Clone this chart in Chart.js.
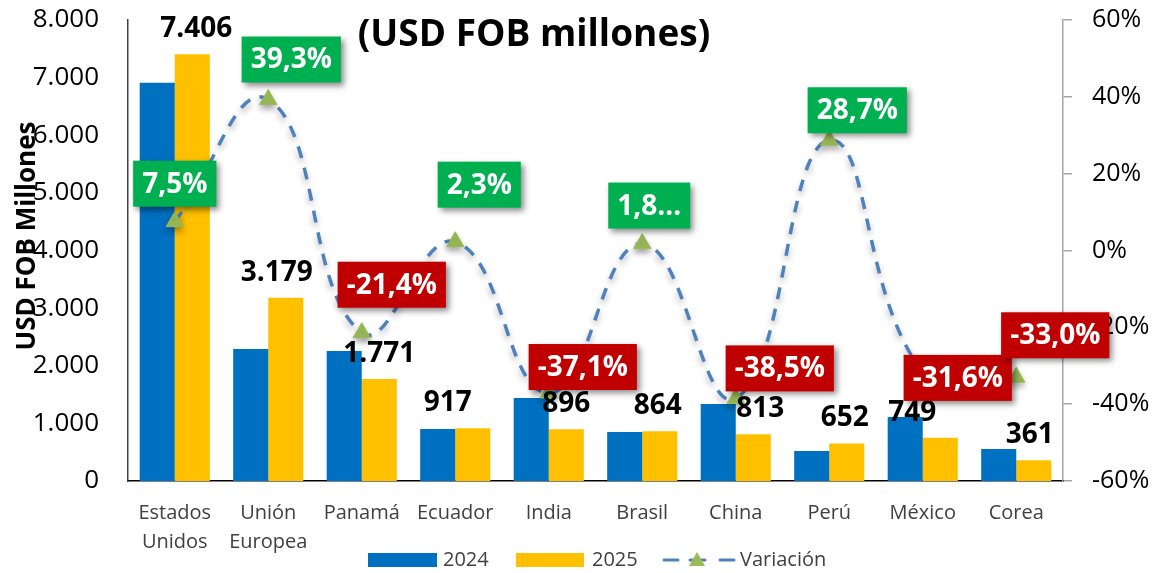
<!DOCTYPE html>
<html>
<head>
<meta charset="utf-8">
<script src="https://cdn.jsdelivr.net/npm/chart.js@4/dist/chart.umd.min.js"></script>
<style>
  html, body { margin: 0; padding: 0; background: #fff; }
  #wrap { width: 1152px; height: 573px; position: relative; }
</style>
</head>
<body>
<div id="wrap"><canvas id="myChart"></canvas></div>
<script>
const categories = [['Estados', 'Unidos'], ['Unión', 'Europea'], 'Panamá', 'Ecuador', 'India', 'Brasil', 'China', 'Perú', 'México', 'Corea'];
const values2024 = [6910, 2290, 2255, 903, 1440, 851, 1337, 521, 1111, 556];
const values2025 = [7406, 3179, 1771, 917, 896, 864, 813, 652, 749, 361];
const variation = [7.5, 39.3, -21.4, 2.3, -37.1, 1.8, -38.5, 28.7, -31.6, -33.0];
const variationText = ['7,5%', '39,3%', '-21,4%', '2,3%', '-37,1%', '1,8…', '-38,5%', '28,7%', '-31,6%', '-33,0%'];
const leftTicks = [0, 8000, 1000];
const rightTicks = [-60, 60, 20];

const FONT = '"Open Sans", "Noto Sans", sans-serif';
const fmt = v => v.toLocaleString('de-DE');

// label nudges as placed in the original (relative to the mark)
const valueNudge = [4, -9, 0, -25, 0, -2, 7, -2, -28, -4];
const boxNudge = [[0, -15], [23, -17], [30, -25], [24, -34], [34, -3], [7, -15], [44, -7], [28, -7], [35, 29], [39, -19]];

// tick padding is added to the scale's top padding, so keep it small there
const trimPad = s => { s.paddingTop = 16; s.paddingBottom = 16; };

const extras = {
  id: 'extras',
  beforeDatasetDraw(chart, args) {
    if (args.index === 2) {
      const ctx = chart.ctx;
      ctx.save();
      ctx.shadowColor = 'rgba(0,0,0,0.3)';
      ctx.shadowBlur = 6;
      ctx.shadowOffsetY = 4;
    }
  },
  afterDatasetDraw(chart, args) {
    if (args.index === 2) chart.ctx.restore();
  },
  afterDraw(chart) {
    const ctx = chart.ctx;

    // 2025 values
    ctx.save();
    ctx.font = 'bold 28px ' + FONT;
    ctx.fillStyle = '#000';
    ctx.textAlign = 'center';
    ctx.textBaseline = 'middle';
    chart.getDatasetMeta(1).data.forEach((bar, i) => {
      ctx.fillText(fmt(values2025[i]), bar.x + valueNudge[i], bar.y - 25);
    });
    ctx.restore();

    // variation boxes
    ctx.save();
    ctx.font = 'bold 28px ' + FONT;
    ctx.textAlign = 'center';
    ctx.textBaseline = 'middle';
    chart.getDatasetMeta(2).data.forEach((pt, i) => {
      const txt = variationText[i];
      const w = ctx.measureText(txt).width + 18;
      const h = 46;
      const cx = pt.x + boxNudge[i][0];
      const bottom = pt.y + boxNudge[i][1];
      ctx.save();
      ctx.shadowColor = 'rgba(0,0,0,0.45)';
      ctx.shadowBlur = 6;
      ctx.shadowOffsetX = 3;
      ctx.shadowOffsetY = 3;
      ctx.fillStyle = variation[i] >= 0 ? '#00B050' : '#C00000';
      ctx.fillRect(cx - w / 2, bottom - h, w, h);
      ctx.restore();
      ctx.fillStyle = '#fff';
      ctx.fillText(txt, cx, bottom - h / 2 + 1);
    });
    ctx.restore();

    // title
    ctx.save();
    ctx.font = 'bold 37px ' + FONT;
    ctx.fillStyle = '#000';
    ctx.textAlign = 'center';
    ctx.textBaseline = 'middle';
    ctx.fillText('(USD FOB millones)', 534, 35);
    ctx.restore();

    // axis titles
    ctx.save();
    ctx.font = 'bold 26px ' + FONT;
    ctx.fillStyle = '#000';
    ctx.textAlign = 'center';
    ctx.textBaseline = 'middle';
    ctx.translate(28, 236);
    ctx.rotate(-Math.PI / 2);
    ctx.fillText('USD FOB Millones', 0, 0);
    ctx.restore();
    ctx.save();
    ctx.font = 'bold 25px ' + FONT;
    ctx.fillStyle = '#000';
    ctx.textAlign = 'center';
    ctx.textBaseline = 'middle';
    ctx.translate(1165, 250);
    ctx.rotate(-Math.PI / 2);
    ctx.fillText('Variación (%)', 0, 0);
    ctx.restore();

    // legend
    ctx.save();
    ctx.font = '20px ' + FONT;
    ctx.textBaseline = 'middle';
    const ly = 560;
    ctx.fillStyle = '#0070C0';
    ctx.fillRect(368, ly - 7, 69, 14);
    ctx.fillStyle = '#404040';
    ctx.fillText('2024', 443, ly);
    ctx.fillStyle = '#FFC000';
    ctx.fillRect(516, ly - 7, 68, 14);
    ctx.fillStyle = '#404040';
    ctx.fillText('2025', 592, ly);
    ctx.strokeStyle = '#4F81BD';
    ctx.lineWidth = 3;
    ctx.lineCap = 'round';
    ctx.beginPath();
    ctx.moveTo(664, ly); ctx.lineTo(678, ly);
    ctx.moveTo(690, ly); ctx.lineTo(705, ly);
    ctx.moveTo(720, ly); ctx.lineTo(734, ly);
    ctx.stroke();
    ctx.fillStyle = '#9BBB59';
    ctx.beginPath();
    ctx.moveTo(697, ly - 8); ctx.lineTo(705, ly + 6); ctx.lineTo(689, ly + 6);
    ctx.closePath();
    ctx.fill();
    ctx.fillStyle = '#404040';
    ctx.fillText('Variación', 740, ly);
    ctx.restore();
  }
};

new Chart(document.getElementById('myChart'), {
  type: 'bar',
  data: {
    labels: categories,
    datasets: [
      {
        label: '2024',
        data: values2024,
        backgroundColor: '#0070C0',
        yAxisID: 'y',
        order: 2,
        categoryPercentage: 0.75,
        barPercentage: 1.0,
      },
      {
        label: '2025',
        data: values2025,
        backgroundColor: '#FFC000',
        yAxisID: 'y',
        order: 2,
        categoryPercentage: 0.75,
        barPercentage: 1.0,
      },
      {
        type: 'line',
        label: 'Variación',
        data: variation,
        yAxisID: 'y1',
        order: 0,
        borderColor: '#4F81BD',
        borderWidth: 3.5,
        borderDash: [12, 10],
        tension: 0.45,
        fill: false,
        pointStyle: 'triangle',
        pointRadius: 10,
        pointBackgroundColor: '#9BBB59',
        pointBorderColor: '#9BBB59',
        pointBorderWidth: 1,
      },
    ],
  },
  options: {
    responsive: true,
    maintainAspectRatio: false,
    animation: false,
    layout: { padding: { top: 20, bottom: 0, left: 0, right: 0 } },
    plugins: {
      legend: { display: false },
      tooltip: { enabled: false },
    },
    scales: {
      x: {
        grid: { display: false },
        border: { display: true, color: '#000', width: 1.5 },
        ticks: {
          color: '#404040',
          padding: 10,
          font: { family: FONT, size: 20, lineHeight: 1.45 },
          maxRotation: 0,
          autoSkip: false,
        },
        afterFit: s => { s.height = 92; },
      },
      y: {
        position: 'left',
        min: leftTicks[0],
        max: leftTicks[1],
        grid: { display: false },
        border: { display: true, color: '#404040', width: 1.5 },
        ticks: {
          stepSize: leftTicks[2],
          padding: 21,
          color: '#000',
          font: { family: FONT, size: 26 },
          callback: v => fmt(v),
        },
        afterFit: s => { s.width = 128; trimPad(s); },
      },
      y1: {
        position: 'right',
        min: rightTicks[0],
        max: rightTicks[1],
        grid: { drawOnChartArea: false, drawTicks: true, tickLength: 9, color: '#A6A6A6', lineWidth: 1.5 },
        border: { display: true, color: '#A6A6A6', width: 1.5 },
        ticks: {
          stepSize: rightTicks[2],
          padding: 20,
          color: '#000',
          font: { family: FONT, size: 25 },
          callback: v => v + '%',
        },
        afterFit: s => { s.width = 89; trimPad(s); },
      },
    },
  },
  plugins: [extras],
});
</script>
</body>
</html>
